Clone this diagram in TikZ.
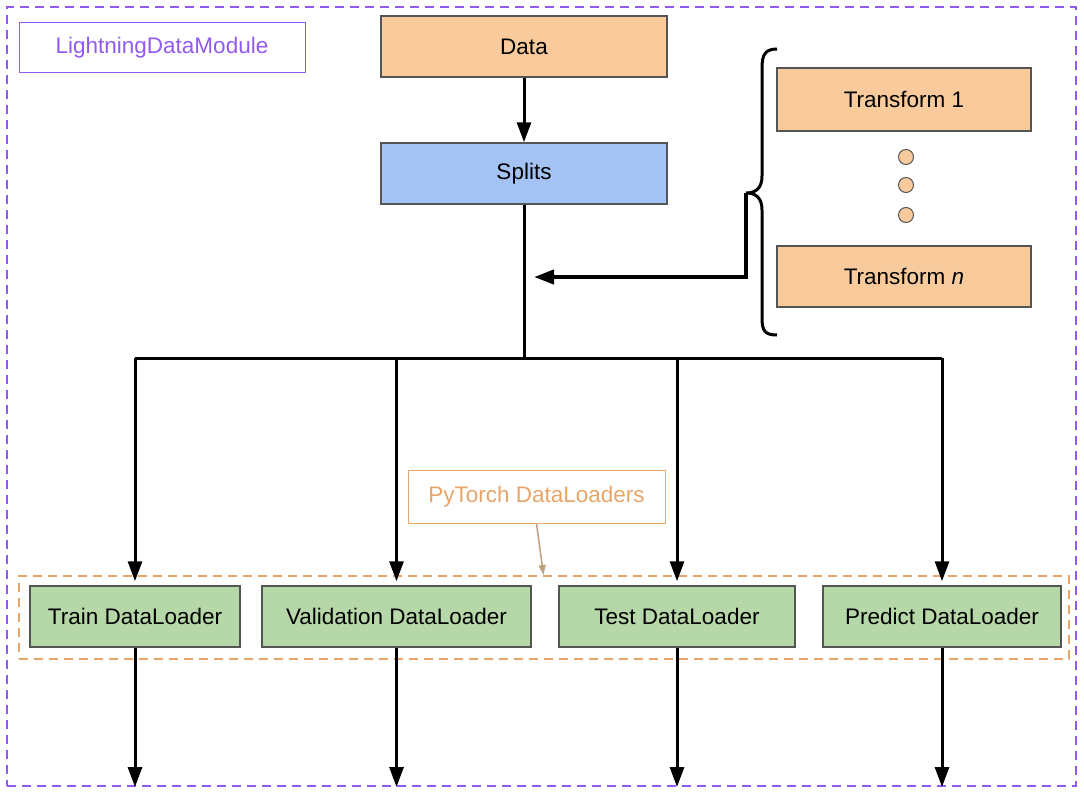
\documentclass[tikz,border=0pt]{standalone}
\usepackage{fontspec}
\setmainfont{Liberation Sans}
\usetikzlibrary{arrows.meta}

\definecolor{dataorange}{RGB}{249,203,156}
\definecolor{splitblue}{RGB}{164,194,244}
\definecolor{loadgreen}{RGB}{182,215,168}
\definecolor{boxgray}{RGB}{85,85,85}
\definecolor{modpurple}{RGB}{145,90,240}
\definecolor{torchtan}{RGB}{232,165,105}
\definecolor{pointtan}{RGB}{190,160,130}

\tikzset{
  block/.style={draw=boxgray, line width=1.5pt, minimum height=61pt, inner sep=0pt},
  flow/.style={line width=3pt, -{Triangle[length=20pt,width=14pt]}},
  tag/.style={line width=1pt, minimum height=52pt, inner sep=0pt}
}

\begin{document}
\begin{tikzpicture}[x=1pt,y=1pt,yscale=-1,xscale=1,font=\fontsize{22.5}{26}\selectfont]
    \useasboundingbox (0,0) rectangle (1084,792);

    % outer module frame
    \node [draw=modpurple, dashed, line width=2pt, dash pattern=on 9pt off 6pt, minimum width=1069pt, minimum height=779pt, inner sep=0pt] (module) at (541.5,396.5) {};
    \node [tag, draw=modpurple, text=modpurple, minimum width=286pt, minimum height=50pt] (modtag) at (162,48) {LightningDataModule};

    % data and splits
    \node [block, fill=dataorange, minimum width=286pt] (data) at (524,46.5) {Data};
    \node [block, fill=splitblue, minimum width=286pt] (splits) at (524,173.5) {Splits};
    \draw [flow] (data) -- (splits);

    % transforms
    \node [block, fill=dataorange, minimum width=254pt, minimum height=63pt] (tfirst) at (904,99.5) {Transform 1};
    \node [block, fill=dataorange, minimum width=254pt] (tlast) at (904,276.5) {Transform \textit{n}};
    \foreach \y/\name in {157/dota, 185/dotb, 215/dotc}
        \node [circle, draw=boxgray, fill=dataorange, line width=1pt, minimum size=15pt, inner sep=0pt] (\name) at (906,\y) {};

    % brace
    \draw [line width=3pt] (777,49) .. controls (765,49) and (762,55) .. (762,68)
        -- (762,176) .. controls (762,188) and (756,193) .. (746,193)
        .. controls (756,193) and (762,198) .. (762,210)
        -- (762,318) .. controls (762,331) and (765,335) .. (777,335);
    \coordinate (bracetip) at (746,193);
    \coordinate (merge) at (534,277);
    \draw [flow, line width=4pt] (bracetip) -- (bracetip |- merge) -- (merge);

    % dataloaders
    \node [draw=torchtan, dashed, line width=2pt, dash pattern=on 9pt off 6pt, minimum width=1050pt, minimum height=83pt, inner sep=0pt] (loaders) at (544,617.5) {};
    \node [block, fill=loadgreen, minimum width=210pt] (train) at (135,616.5) {Train DataLoader};
    \node [block, fill=loadgreen, minimum width=269pt] (valid) at (396.5,616.5) {Validation DataLoader};
    \node [block, fill=loadgreen, minimum width=236pt] (test) at (677,616.5) {Test DataLoader};
    \node [block, fill=loadgreen, minimum width=238pt] (predict) at (942,616.5) {Predict DataLoader};

    \coordinate (fork) at (524,358);
    \draw [line width=3pt] (splits) -- (fork);
    \draw [line width=3pt] (train.north |- fork) -- (predict.north |- fork);
    \foreach \n in {train, valid, test, predict} {
        \draw [flow, shorten >=4pt] (\n.north |- fork) -- (\n.north);
        \draw [flow] (\n.south) -- (\n.south |- module.south);
    }

    % torch label
    \node [tag, draw=torchtan, text=torchtan, minimum width=257pt, minimum height=53pt] (torchtag) at (536.5,496.5) {PyTorch DataLoaders};
    \draw [pointtan, line width=1.5pt, -{Triangle[length=10pt,width=7pt]}] (torchtag.south) -- ([xshift=7pt]torchtag.south |- loaders.north);

\end{tikzpicture}
\end{document}
